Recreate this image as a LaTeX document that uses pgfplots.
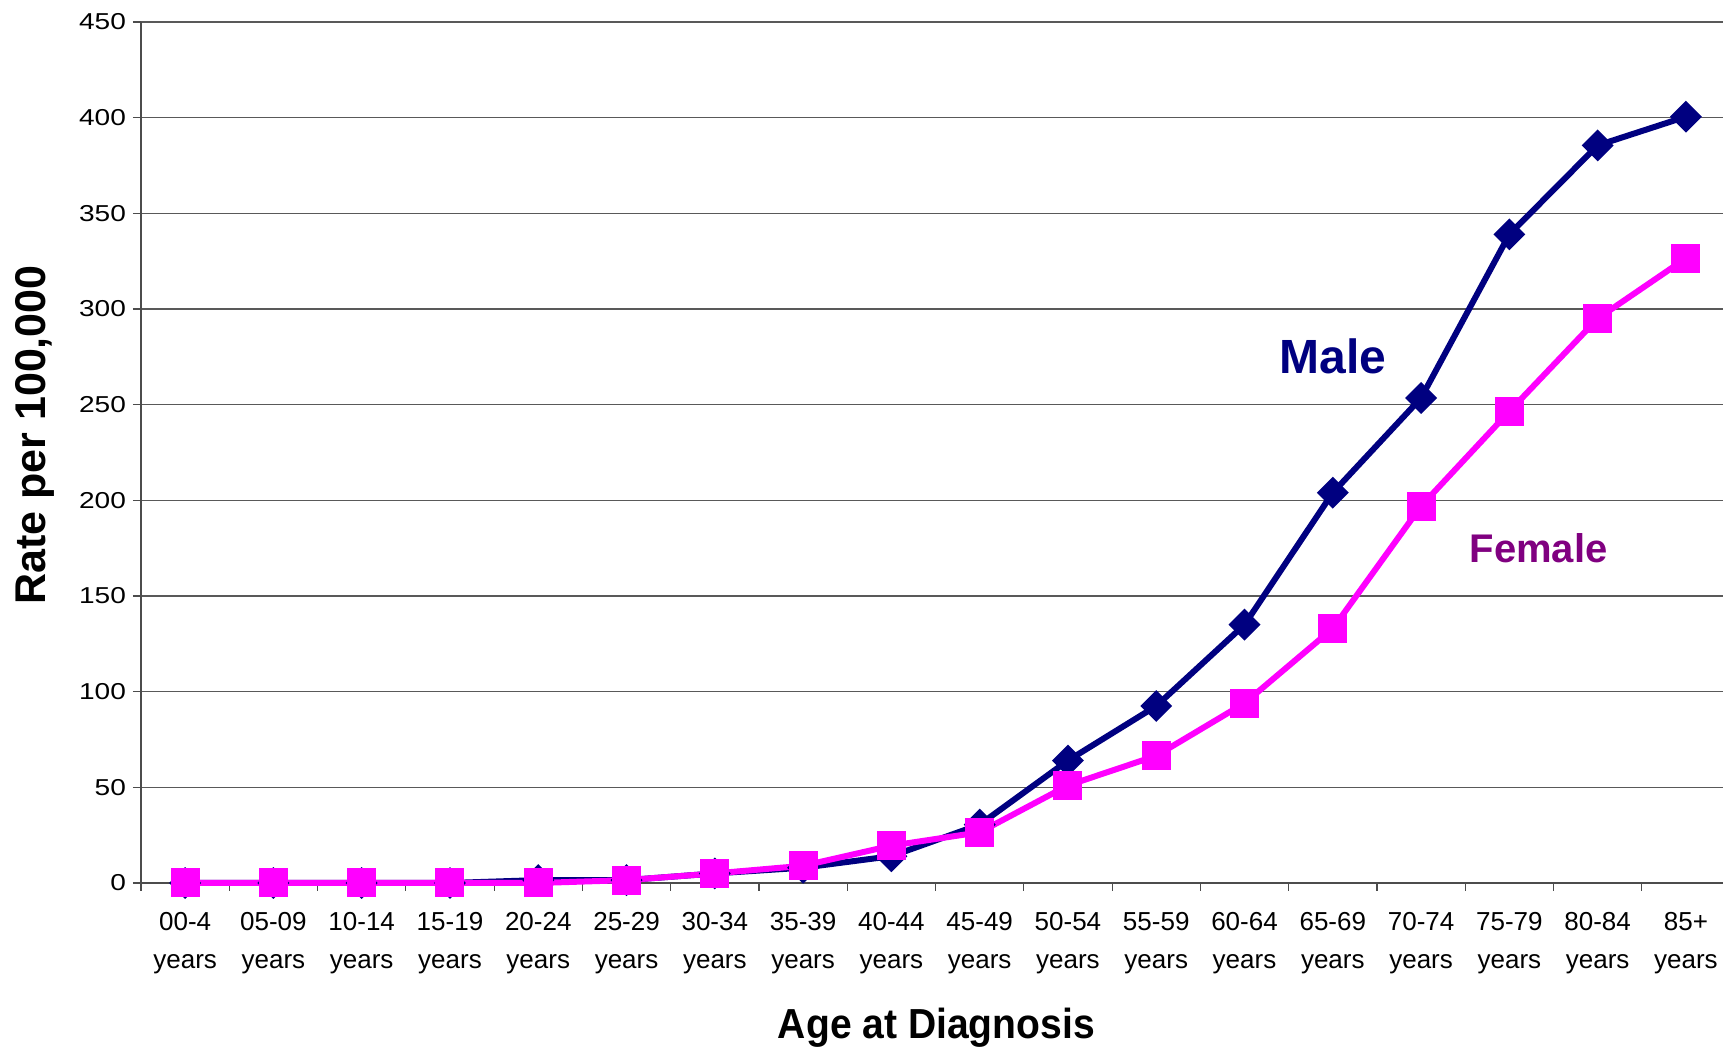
\documentclass[border=0pt]{standalone}
\usepackage{fontspec}
\setmainfont{Liberation Sans}
\newfontfamily\ytickfont{Liberation Sans}[FakeStretch=1.22]
\newfontfamily\xlabfont{Liberation Sans}[FakeStretch=0.93]
\usepackage{pgfplots}
\pgfplotsset{compat=1.18}
\definecolor{malec}{HTML}{000080}
\definecolor{femc}{HTML}{FF00FF}
\definecolor{femtxt}{HTML}{800080}
\begin{document}
\begin{tikzpicture}
\begin{axis}[
  scale only axis,
  width=791pt, height=430.5pt,
  xmin=-0.5, xmax=17.42,
  ymin=0, ymax=450,
  axis lines*=left,
  axis line style={line width=1pt, black!70},
  ytick={0,50,...,450},
  ymajorgrids,
  major grid style={line width=0.6pt, black!65},
  major tick length=4pt,
  tick style={line width=0.6pt, black!70},
  tick align=outside,
  xtick={-0.5,0.5,...,17.5},
  xticklabels={},
  extra x ticks={0,...,17},
  extra x tick labels={{00-4\\years},{05-09\\years},{10-14\\years},{15-19\\years},{20-24\\years},{25-29\\years},{30-34\\years},{35-39\\years},{40-44\\years},{45-49\\years},{50-54\\years},{55-59\\years},{60-64\\years},{65-69\\years},{70-74\\years},{75-79\\years},{80-84\\years},{85+\\years}},
  extra x tick style={tick style={draw=none}, grid=none},
  xticklabel style={align=center, font=\fontsize{13}{19}\selectfont, yshift=-7.2pt},
  yticklabel style={font=\ytickfont\fontsize{11.5}{13}\selectfont, xshift=0pt},
  /pgf/number format/assume math mode=true,
  xlabel={Age at Diagnosis},
  xlabel style={at={([xshift=2.2pt,yshift=-72.6pt]axis description cs:0.5,0)}, anchor=center, font=\xlabfont\bfseries\fontsize{21}{25}\selectfont},
  ylabel={Rate per 100,000},
  ylabel style={at={([xshift=-53pt]axis description cs:0,0.315)}, anchor=west, rotate=0, font=\bfseries\fontsize{21.5}{25}\selectfont},
  clip=false,
]
\addplot[color=malec, line width=3pt, mark=square*, mark size=4.4pt, mark options={rotate=45, solid, fill=malec, line width=2.5pt}] coordinates {
(0,0) (1,0) (2,0) (3,0) (4,1.5) (5,1.5) (6,5) (7,8) (8,14) (9,30.5) (10,64) (11,92.5) (12,135) (13,204) (14,253.5) (15,339) (16,385.5) (17,400.5)};
\addplot[color=femc, line width=3pt, mark=square*, mark size=6pt, mark options={solid, fill=femc, line width=2.5pt}] coordinates {
(0,0) (1,0) (2,0) (3,0) (4,0) (5,1.5) (6,5) (7,9) (8,19.5) (9,26.5) (10,51) (11,66.5) (12,94) (13,133) (14,197) (15,246.5) (16,295) (17,326.5)};
\node[font=\bfseries\fontsize{24}{28}\selectfont, text=malec] at (axis cs:13,275) {Male};
\node[font=\bfseries\fontsize{20}{24}\selectfont, text=femtxt] at (axis cs:15.33,175) {Female};
\coordinate (BL) at (rel axis cs:0,0);
\coordinate (TR) at (rel axis cs:1,1);
\end{axis}
\pgfresetboundingbox
\path[use as bounding box] ([xshift=-70.5pt,yshift=-82.5pt]BL) rectangle ([yshift=11pt]TR);
\end{tikzpicture}
\end{document}
